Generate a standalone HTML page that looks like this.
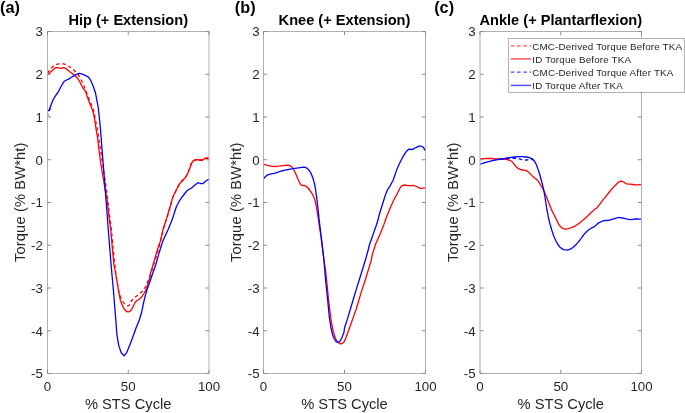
<!DOCTYPE html>
<html><head><meta charset="utf-8"><style>
html,body{margin:0;padding:0;background:#fff;overflow:hidden;}
svg{display:block;will-change:transform;}
text{font-family:"Liberation Sans",sans-serif;fill:#262626;}
</style></head><body>
<svg width="685" height="413" viewBox="0 0 685 413">
<rect width="685" height="413" fill="#fff"/>

<clipPath id="c0"><rect x="47.5" y="31.5" width="161.5" height="342.0"/></clipPath>
<g clip-path="url(#c0)" fill="none" stroke-width="1.3" stroke-linejoin="round" stroke-linecap="butt">
<path d="M47.3,73.2 L50.0,69.5 L52.6,66.7 L55.0,65.0 L57.2,64.1 L60.4,63.8 L63.6,63.8 L66.5,65.0 L69.4,66.7 L72.0,68.4 L74.1,70.2 L76.0,72.3 L79.0,76.0 L81.8,81.0 L84.0,86.0 L85.7,90.7 L87.7,95.5 L89.6,100.4 L91.5,105.0 L93.4,110.0 L94.7,115.5 L95.8,121.7 L97.5,130.0 L99.3,142.0 L101.3,155.0 L103.5,170.0 L105.8,185.0 L107.7,200.0 L109.5,215.0 L111.4,230.0 L113.0,248.0 L114.5,262.0 L116.0,276.0 L117.5,284.5 L119.0,292.3 L121.0,298.3 L123.5,302.6 L126.0,305.0 L127.6,305.8 L129.0,305.7 L130.5,303.5 L131.8,300.3 L134.5,297.5 L137.2,295.5 L139.6,293.6 L142.0,291.6 L143.8,289.5 L145.4,286.8 L148.4,280.0 L150.4,275.5 L152.8,267.5 L155.2,260.0 L157.0,254.7 L158.8,247.6 L160.6,241.0 L162.0,234.9 L163.4,228.9 L165.3,222.8 L167.3,216.7 L169.1,210.6 L170.9,204.6 L173.0,196.8 L176.4,189.9 L179.8,183.3 L184.6,178.4 L186.8,175.0 L188.4,171.4 L189.5,168.6 L190.5,165.6 L191.6,163.0 L192.7,160.8 L194.8,159.8 L197.5,159.0 L198.8,159.3 L200.1,159.8 L202.2,159.7 L203.3,159.0 L204.4,158.1 L207.0,158.0 L209.5,157.4" stroke="#ff0000" stroke-dasharray="3.5,2.8"/>
<path d="M47.3,74.8 L50.0,72.5 L53.0,69.8 L56.0,67.4 L58.4,67.9 L60.7,68.4 L63.6,67.6 L65.9,68.4 L69.4,71.4 L72.0,73.3 L74.1,75.2 L76.0,76.6 L78.0,79.0 L79.9,82.0 L81.5,85.5 L82.8,87.8 L85.7,91.6 L87.0,96.0 L88.6,100.4 L90.5,105.5 L92.5,110.0 L93.5,113.5 L94.4,117.8 L95.2,123.0 L96.1,129.4 L97.6,138.0 L99.0,150.0 L101.0,165.0 L103.2,178.0 L105.2,190.0 L107.1,200.0 L108.8,215.0 L110.8,230.0 L112.5,250.0 L114.0,265.0 L116.8,280.0 L118.3,289.7 L120.2,299.4 L121.6,303.8 L123.1,307.1 L124.8,309.8 L126.5,311.5 L128.5,311.8 L130.4,311.0 L131.7,309.3 L132.8,307.1 L134.0,304.5 L135.2,302.3 L136.8,300.8 L138.6,299.8 L140.3,298.3 L142.0,296.5 L144.0,293.5 L145.9,289.7 L147.6,285.0 L149.3,280.0 L150.2,274.3 L152.0,268.2 L153.8,262.1 L155.6,256.0 L157.4,250.0 L158.9,245.0 L160.3,241.4 L161.7,235.3 L163.1,229.3 L165.0,223.2 L167.0,217.1 L168.8,211.0 L170.6,205.0 L172.7,197.2 L176.1,190.3 L179.5,183.7 L184.3,178.8 L186.8,175.3 L188.4,171.8 L189.5,169.0 L190.5,166.0 L191.6,163.4 L192.7,161.2 L194.8,160.4 L197.5,159.6 L198.8,159.8 L200.1,160.4 L202.2,160.4 L203.3,159.6 L204.4,158.5 L207.0,158.5 L209.5,158.0" stroke="#ff0000"/>
<path d="M47.4,117.2 L47.8,114.3 L48.6,111.5 L49.5,109.9 L51.3,105.2" stroke="#0000ff" stroke-dasharray="3.5,2.8"/>
<path d="M47.6,110.8 L49.3,110.0 L50.8,105.5 L52.3,101.8 L53.9,98.3 L56.0,95.0 L58.1,92.2 L59.7,89.0 L61.2,86.2 L62.7,83.6 L64.2,81.3 L66.5,80.0 L69.0,78.9 L71.5,77.3 L73.9,75.9 L76.3,74.4 L78.7,73.5 L80.5,73.6 L82.4,74.1 L84.2,74.8 L86.0,75.9 L88.6,77.1 L91.0,81.0 L93.4,86.8 L95.5,93.0 L96.9,100.4 L98.3,108.0 L99.4,118.0 L100.3,127.0 L101.3,140.0 L102.9,160.0 L104.5,180.0 L106.0,200.0 L107.2,215.0 L108.3,230.0 L109.5,245.0 L110.7,260.0 L112.0,275.0 L113.4,290.0 L115.0,310.0 L115.8,320.0 L116.9,334.5 L118.7,345.4 L121.2,352.7 L124.2,355.7 L126.6,352.7 L129.6,345.4 L133.3,335.7 L136.3,327.3 L139.3,320.0 L141.6,312.3 L143.5,303.0 L145.5,294.9 L147.4,288.5 L150.0,281.5 L153.0,272.5 L155.9,264.3 L158.5,255.1 L160.6,248.0 L162.7,241.4 L165.5,235.3 L168.2,229.3 L170.7,223.2 L173.1,217.1 L174.9,211.0 L176.5,206.5 L178.0,203.5 L180.5,199.2 L184.0,194.5 L187.2,190.5 L189.7,189.0 L192.1,187.6 L195.0,185.0 L197.9,182.7 L200.3,183.5 L202.7,183.7 L205.2,181.5 L207.6,179.8 L209.5,179.2" stroke="#0000ff"/>
</g>
<path d="M47.5,31.5H209.0V373.5H47.5Z" fill="none" stroke="#b0b0b0" stroke-width="1"/>
<path d="M47.5,373.50h3.6M209.0,373.50h-3.6M47.5,330.75h3.6M209.0,330.75h-3.6M47.5,288.00h3.6M209.0,288.00h-3.6M47.5,245.25h3.6M209.0,245.25h-3.6M47.5,202.50h3.6M209.0,202.50h-3.6M47.5,159.75h3.6M209.0,159.75h-3.6M47.5,117.00h3.6M209.0,117.00h-3.6M47.5,74.25h3.6M209.0,74.25h-3.6M47.5,31.50h3.6M209.0,31.50h-3.6M47.50,373.5v-3.6M47.50,31.5v3.6M128.25,373.5v-3.6M128.25,31.5v3.6M209.00,373.5v-3.6M209.00,31.5v3.6" stroke="#8a8a8a" stroke-width="1" fill="none"/>
<text x="42.8" y="378.3" font-size="13.3" text-anchor="end">-5</text>
<text x="42.8" y="335.6" font-size="13.3" text-anchor="end">-4</text>
<text x="42.8" y="292.8" font-size="13.3" text-anchor="end">-3</text>
<text x="42.8" y="250.1" font-size="13.3" text-anchor="end">-2</text>
<text x="42.8" y="207.3" font-size="13.3" text-anchor="end">-1</text>
<text x="42.8" y="164.6" font-size="13.3" text-anchor="end">0</text>
<text x="42.8" y="121.8" font-size="13.3" text-anchor="end">1</text>
<text x="42.8" y="79.0" font-size="13.3" text-anchor="end">2</text>
<text x="42.8" y="36.3" font-size="13.3" text-anchor="end">3</text>
<text x="47.5" y="390.6" font-size="13.3" text-anchor="middle">0</text>
<text x="128.2" y="390.6" font-size="13.3" text-anchor="middle">50</text>
<text x="209.0" y="390.6" font-size="13.3" text-anchor="middle">100</text>
<text x="128.2" y="409" font-size="14.7" text-anchor="middle">% STS Cycle</text>
<text transform="translate(25.2,202.2) rotate(-90)" x="0" y="0" font-size="14.6" letter-spacing="0.17" text-anchor="middle">Torque (% BW*ht)</text>
<text x="128.2" y="24.7" font-size="14.6" font-weight="bold" text-anchor="middle" style="fill:#000">Hip (+ Extension)</text>
<text x="0.0" y="12.9" font-size="16.3" font-weight="bold" style="fill:#000">(a)</text>
<clipPath id="c1"><rect x="263.5" y="31.5" width="162.0" height="342.0"/></clipPath>
<g clip-path="url(#c1)" fill="none" stroke-width="1.3" stroke-linejoin="round" stroke-linecap="butt">
<path d="M263.5,164.2 L266.5,165.2 L269.7,165.8 L272.5,166.3 L275.5,166.5 L278.5,166.2 L281.3,165.8 L285.0,165.4 L288.1,165.2 L290.3,165.8 L292.0,167.1 L293.5,169.3 L294.9,172.0 L296.4,175.3 L297.8,178.7 L299.2,181.8 L300.7,184.6 L302.5,185.5 L304.6,185.5 L306.0,186.2 L307.5,187.5 L309.5,189.8 L311.3,192.3 L312.9,195.0 L314.2,198.1 L315.3,201.5 L316.2,205.9 L317.2,211.5 L318.1,217.5 L319.5,227.0 L321.0,237.0 L322.5,249.0 L324.0,260.0 L325.5,270.0 L326.6,280.0 L328.5,299.4 L330.0,312.0 L331.5,322.6 L333.3,331.5 L335.3,338.1 L337.5,342.0 L340.2,343.9 L342.0,343.5 L344.0,341.9 L346.0,337.5 L347.9,332.3 L349.5,328.0 L352.9,318.4 L356.3,308.7 L359.2,299.0 L362.1,289.4 L365.3,280.0 L367.4,273.0 L369.5,266.3 L371.3,260.2 L372.2,255.0 L373.9,249.5 L375.6,244.0 L377.8,239.2 L379.9,234.4 L381.9,229.5 L383.8,224.7 L385.6,219.8 L387.3,215.0 L389.0,211.0 L390.6,207.1 L392.3,203.3 L394.0,199.5 L395.5,196.7 L397.0,194.0 L398.5,191.0 L400.0,188.2 L401.5,186.1 L403.1,185.3 L404.7,185.0 L406.7,185.3 L408.6,185.7 L411.0,185.6 L413.3,185.4 L415.3,186.0 L417.3,186.9 L419.3,187.8 L421.2,188.5 L423.2,188.2 L425.6,187.6" stroke="#ff0000"/>
<path d="M263.5,178.7 L265.5,176.5 L267.7,174.9 L271.0,173.8 L274.5,173.3 L278.0,172.2 L281.3,171.0 L285.0,170.1 L289.1,169.4 L293.0,168.7 L296.8,168.1 L300.0,167.6 L303.6,167.1 L305.6,167.4 L307.5,168.7 L309.5,170.8 L311.3,173.9 L312.9,178.0 L314.2,182.6 L315.3,188.0 L316.2,194.2 L317.2,201.5 L318.1,209.7 L319.1,219.4 L320.5,231.0 L322.0,243.0 L323.5,256.0 L325.6,280.0 L327.6,299.4 L329.5,318.7 L330.9,327.5 L332.4,334.2 L334.3,339.0 L336.3,341.9 L338.3,342.3 L340.2,341.0 L342.1,337.3 L344.0,332.3 L344.5,328.0 L347.6,318.4 L350.5,308.7 L353.4,299.0 L356.3,289.4 L359.2,280.0 L361.4,273.0 L363.5,266.3 L365.3,260.2 L366.8,255.0 L368.3,249.5 L369.7,244.0 L371.4,239.2 L373.1,234.4 L374.8,229.5 L376.5,224.7 L378.0,219.8 L379.2,215.0 L381.3,208.0 L383.4,201.2 L385.6,194.4 L387.7,189.3 L389.8,186.4 L391.5,183.2 L393.2,180.0 L394.9,175.0 L396.8,169.6 L398.8,165.0 L400.7,161.0 L402.7,157.2 L404.7,153.9 L406.6,151.2 L408.6,149.2 L411.0,149.5 L413.3,149.2 L414.9,148.0 L416.5,147.3 L418.5,146.4 L420.4,146.0 L422.0,146.5 L423.6,147.6 L424.7,150.0 L425.6,150.5" stroke="#0000ff"/>
</g>
<path d="M263.5,31.5H425.5V373.5H263.5Z" fill="none" stroke="#b0b0b0" stroke-width="1"/>
<path d="M263.5,373.50h3.6M425.5,373.50h-3.6M263.5,330.75h3.6M425.5,330.75h-3.6M263.5,288.00h3.6M425.5,288.00h-3.6M263.5,245.25h3.6M425.5,245.25h-3.6M263.5,202.50h3.6M425.5,202.50h-3.6M263.5,159.75h3.6M425.5,159.75h-3.6M263.5,117.00h3.6M425.5,117.00h-3.6M263.5,74.25h3.6M425.5,74.25h-3.6M263.5,31.50h3.6M425.5,31.50h-3.6M263.50,373.5v-3.6M263.50,31.5v3.6M344.50,373.5v-3.6M344.50,31.5v3.6M425.50,373.5v-3.6M425.50,31.5v3.6" stroke="#8a8a8a" stroke-width="1" fill="none"/>
<text x="259.6" y="378.3" font-size="13.3" text-anchor="end">-5</text>
<text x="259.6" y="335.6" font-size="13.3" text-anchor="end">-4</text>
<text x="259.6" y="292.8" font-size="13.3" text-anchor="end">-3</text>
<text x="259.6" y="250.1" font-size="13.3" text-anchor="end">-2</text>
<text x="259.6" y="207.3" font-size="13.3" text-anchor="end">-1</text>
<text x="259.6" y="164.6" font-size="13.3" text-anchor="end">0</text>
<text x="259.6" y="121.8" font-size="13.3" text-anchor="end">1</text>
<text x="259.6" y="79.0" font-size="13.3" text-anchor="end">2</text>
<text x="259.6" y="36.3" font-size="13.3" text-anchor="end">3</text>
<text x="263.5" y="390.6" font-size="13.3" text-anchor="middle">0</text>
<text x="344.5" y="390.6" font-size="13.3" text-anchor="middle">50</text>
<text x="425.5" y="390.6" font-size="13.3" text-anchor="middle">100</text>
<text x="344.5" y="409" font-size="14.7" text-anchor="middle">% STS Cycle</text>
<text transform="translate(241.2,202.2) rotate(-90)" x="0" y="0" font-size="14.6" letter-spacing="0.17" text-anchor="middle">Torque (% BW*ht)</text>
<text x="344.5" y="24.7" font-size="14.6" font-weight="bold" text-anchor="middle" style="fill:#000">Knee (+ Extension)</text>
<text x="234.8" y="12.9" font-size="16.3" font-weight="bold" style="fill:#000">(b)</text>
<clipPath id="c2"><rect x="480.0" y="31.5" width="161.5" height="342.0"/></clipPath>
<g clip-path="url(#c2)" fill="none" stroke-width="1.3" stroke-linejoin="round" stroke-linecap="butt">
<path d="M479.9,158.8 L483.7,158.6 L487.6,158.4 L491.5,158.5 L495.4,158.8 L499.2,158.9 L503.1,159.0 L506.0,159.4 L508.9,160.0 L511.8,161.3 L513.3,163.1 L514.7,165.2 L516.2,166.8 L517.6,168.1 L520.0,169.3 L522.5,170.0 L524.5,170.2 L526.4,170.6 L528.0,171.6 L529.3,172.9 L531.2,174.9 L533.1,176.8 L535.0,178.3 L537.0,179.7 L539.0,182.4 L540.9,185.5 L542.4,187.9 L543.8,190.4 L545.7,195.0 L547.7,200.0 L549.6,204.8 L551.5,209.7 L553.5,213.8 L555.4,217.5 L557.2,221.3 L558.9,224.7 L560.7,226.8 L562.5,228.3 L564.3,229.0 L566.2,229.1 L568.3,228.5 L570.5,227.9 L572.7,227.1 L574.9,226.2 L577.0,224.8 L579.2,223.2 L581.4,221.4 L583.6,219.6 L585.8,217.7 L587.9,215.7 L590.1,213.5 L592.3,211.6 L594.5,209.5 L596.7,208.0 L599.3,204.8 L601.5,201.9 L603.6,198.9 L605.4,197.2 L607.3,194.6 L609.7,191.5 L612.6,188.1 L615.5,185.2 L617.9,182.8 L619.4,181.5 L621.3,181.1 L623.3,181.8 L624.7,182.8 L626.5,183.9 L628.6,184.1 L630.7,184.1 L632.8,184.5 L635.0,184.9 L638.4,184.9 L641.6,184.4" stroke="#ff0000"/>
<path d="M500.0,159.2 L505.0,158.6 L510.0,158.3 L515.0,158.2 L518.0,158.5 L521.0,159.4 L524.0,160.0 L527.0,160.0 L530.0,159.4 L532.2,159.3 L533.7,160.4 L535.1,162.3" stroke="#0000ff" stroke-dasharray="3.5,2.8"/>
<path d="M479.9,164.2 L483.7,163.0 L487.6,161.9 L491.5,160.9 L495.4,160.0 L499.2,159.3 L503.1,158.8 L507.0,158.0 L510.9,157.4 L514.7,157.0 L518.6,156.7 L522.5,156.7 L526.4,157.0 L529.5,157.7 L532.2,158.8 L533.7,160.2 L535.1,162.3 L536.6,165.3 L538.0,169.1 L539.5,173.7 L540.9,178.7 L542.4,184.3 L543.8,190.4 L544.8,196.0 L545.7,202.0 L546.5,207.0 L547.3,211.6 L548.6,218.5 L550.2,224.7 L552.0,230.8 L553.8,236.3 L556.0,241.0 L558.2,245.0 L560.3,247.5 L562.5,249.1 L564.7,249.9 L566.9,250.1 L569.0,249.6 L571.2,248.7 L573.4,247.0 L575.6,245.0 L577.8,242.6 L580.0,240.0 L582.1,237.0 L584.3,234.1 L586.5,231.8 L588.7,229.8 L591.2,228.2 L593.8,226.9 L596.0,225.2 L598.1,223.2 L599.3,222.6 L601.5,221.5 L603.6,220.6 L606.2,220.5 L608.7,220.4 L611.2,219.6 L613.8,218.9 L616.0,218.1 L618.0,217.5 L620.2,217.7 L622.3,218.0 L624.4,218.4 L626.5,218.9 L628.6,219.3 L630.7,219.6 L632.8,219.3 L635.0,218.9 L637.0,219.0 L639.2,219.2 L641.6,219.2" stroke="#0000ff"/>
</g>
<path d="M480.0,31.5H641.5V373.5H480.0Z" fill="none" stroke="#b0b0b0" stroke-width="1"/>
<path d="M480.0,373.50h3.6M641.5,373.50h-3.6M480.0,330.75h3.6M641.5,330.75h-3.6M480.0,288.00h3.6M641.5,288.00h-3.6M480.0,245.25h3.6M641.5,245.25h-3.6M480.0,202.50h3.6M641.5,202.50h-3.6M480.0,159.75h3.6M641.5,159.75h-3.6M480.0,117.00h3.6M641.5,117.00h-3.6M480.0,74.25h3.6M641.5,74.25h-3.6M480.0,31.50h3.6M641.5,31.50h-3.6M480.00,373.5v-3.6M480.00,31.5v3.6M560.75,373.5v-3.6M560.75,31.5v3.6M641.50,373.5v-3.6M641.50,31.5v3.6" stroke="#8a8a8a" stroke-width="1" fill="none"/>
<text x="475.7" y="378.3" font-size="13.3" text-anchor="end">-5</text>
<text x="475.7" y="335.6" font-size="13.3" text-anchor="end">-4</text>
<text x="475.7" y="292.8" font-size="13.3" text-anchor="end">-3</text>
<text x="475.7" y="250.1" font-size="13.3" text-anchor="end">-2</text>
<text x="475.7" y="207.3" font-size="13.3" text-anchor="end">-1</text>
<text x="475.7" y="164.6" font-size="13.3" text-anchor="end">0</text>
<text x="475.7" y="121.8" font-size="13.3" text-anchor="end">1</text>
<text x="475.7" y="79.0" font-size="13.3" text-anchor="end">2</text>
<text x="475.7" y="36.3" font-size="13.3" text-anchor="end">3</text>
<text x="480.0" y="390.6" font-size="13.3" text-anchor="middle">0</text>
<text x="560.8" y="390.6" font-size="13.3" text-anchor="middle">50</text>
<text x="641.5" y="390.6" font-size="13.3" text-anchor="middle">100</text>
<text x="560.8" y="409" font-size="14.7" text-anchor="middle">% STS Cycle</text>
<text transform="translate(457.7,202.2) rotate(-90)" x="0" y="0" font-size="14.6" letter-spacing="0.17" text-anchor="middle">Torque (% BW*ht)</text>
<text x="560.8" y="24.7" font-size="14.6" font-weight="bold" text-anchor="middle" style="fill:#000">Ankle (+ Plantarflexion)</text>
<text x="434.2" y="12.9" font-size="16.3" font-weight="bold" style="fill:#000">(c)</text>
<rect x="508.5" y="38.0" width="175.79999999999995" height="54.0" fill="#fff" stroke="#262626" stroke-width="0.5" stroke-opacity="0.7" shape-rendering="crispEdges"/>
<path d="M510.8,45.9H531.1" stroke="#ff0000" stroke-opacity="0.72" stroke-width="1.4" stroke-dasharray="3.5,2.8"/>
<text x="532.3" y="49.6" font-size="9.8" textLength="149.7" lengthAdjust="spacing">CMC-Derived Torque Before TKA</text>
<path d="M510.8,58.9H531.1" stroke="#ff0000" stroke-opacity="0.72" stroke-width="1.4"/>
<text x="532.3" y="62.7" font-size="9.8" textLength="98.7" lengthAdjust="spacing">ID Torque Before TKA</text>
<path d="M510.8,72.1H531.1" stroke="#0000ff" stroke-opacity="0.72" stroke-width="1.4" stroke-dasharray="3.5,2.8"/>
<text x="532.3" y="75.6" font-size="9.8" textLength="141.0" lengthAdjust="spacing">CMC-Derived Torque After TKA</text>
<path d="M510.8,85.4H531.1" stroke="#0000ff" stroke-opacity="0.72" stroke-width="1.4"/>
<text x="532.3" y="88.9" font-size="9.8" textLength="90.5" lengthAdjust="spacing">ID Torque After TKA</text>
</svg></body></html>
